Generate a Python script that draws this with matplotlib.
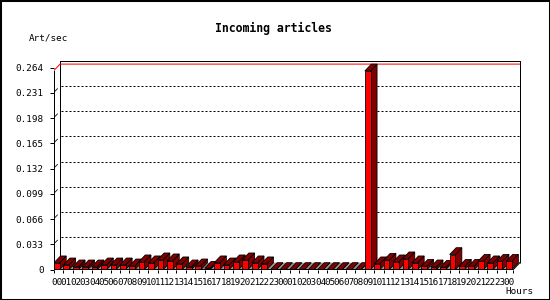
import matplotlib
matplotlib.use("Agg")
import matplotlib.pyplot as plt
from matplotlib.patches import Polygon, Rectangle

# ---------------- data ----------------
hours = ["00", "01", "02", "03", "04", "05", "06", "07", "08", "09", "10", "11",
         "12", "13", "14", "15", "16", "17", "18", "19", "20", "21", "22", "23",
         "00", "01", "02", "03", "04", "05", "06", "07", "08", "09", "10", "11",
         "12", "13", "14", "15", "16", "17", "18", "19", "20", "21", "22", "23",
         "00"]
day1 = [0.0088, 0.0061, 0.0035, 0.0035, 0.0035, 0.0061, 0.0061, 0.0061,
        0.0048, 0.0101, 0.0088, 0.0127, 0.0114, 0.0075, 0.0035, 0.0048,
        0.0017, 0.0088, 0.0061, 0.0101, 0.0127, 0.0088, 0.0075, 0.0]
day2 = [0.0, 0.0, 0.0, 0.0, 0.0, 0.0, 0.0, 0.0, 0.0, 0.2596,
        0.0075, 0.0122, 0.0101, 0.0140, 0.0088, 0.0043, 0.0035, 0.0030,
        0.0196, 0.0043, 0.0043, 0.0108, 0.0088, 0.0108, 0.0108]
values = day1 + day2
y_ticks = [0, 0.033, 0.066, 0.099, 0.132, 0.165, 0.198, 0.231, 0.264]
y_tick_labels = ["0", "0.033", "0.066", "0.099", "0.132", "0.165", "0.198", "0.231", "0.264"]
title = "Incoming articles"
y_label = "Art/sec"
x_label = "Hours"

# ---------------- layout ----------------
W, H = 550, 300
PX_X = 9.42      # pixels per category
PX_Y = 765.0     # pixels per unit value
X0, X1 = -0.05, 49.6
Y0, Y1 = 0.0, 0.28
base_px = 269.5
left_px = 54 + PX_X * X0

FONT = "DejaVu Sans Mono"
fs = 6.7
px = 0.72  # one pixel in points

fig = plt.figure(figsize=(W / 100, H / 100), dpi=100)
fig.patch.set_facecolor("white")
ax = fig.add_axes([left_px / W, (H - base_px) / H,
                   PX_X * (X1 - X0) / W, PX_Y * (Y1 - Y0) / H])
ax.set_xlim(X0, X1)
ax.set_ylim(Y0, Y1)
for s in ax.spines.values():
    s.set_visible(False)
ax.patch.set_visible(False)

n = len(values)
bw = 0.605
ddx = 6.5 / PX_X
ddy = 6.8 / PX_Y
xend = n - 0.24
ytop = y_ticks[-1]
maxv = max(values)

# floor
ax.add_patch(Polygon([(X0, 0), (xend, 0), (xend + ddx, ddy), (X0 + ddx, ddy)],
                     closed=True, fc="#999999", ec="none", zorder=1))
# back wall frame
ax.plot([X0 + ddx, X0 + ddx, xend + ddx, xend + ddx],
        [ddy, ytop + ddy, ytop + ddy, ddy], color="black", lw=px, zorder=2,
        solid_capstyle="butt")
# grid
for t in y_ticks[1:-1]:
    ax.plot([X0 + ddx + 0.15, xend + ddx], [t + ddy, t + ddy], color="black",
            lw=px, ls=(0, (2, 2)), zorder=2)
    ax.plot([X0 + 0.25 * ddx, X0 + 0.6 * ddx], [t + 0.25 * ddy, t + 0.6 * ddy],
            color="black", lw=px * 0.8, zorder=2)
# max line
ax.plot([X0, X0 + ddx, xend + ddx], [maxv, maxv + ddy, maxv + ddy],
        color="red", lw=px, zorder=2)
# front axis + floor edges
ax.plot([X0, X0], [0, maxv], color="black", lw=px, zorder=6)
ax.plot([X0, xend, xend + ddx], [0, 0, ddy], color="black", lw=px, zorder=6)
ax.plot([X0, X0 + ddx], [0, ddy], color="black", lw=px, zorder=2)

# bars: tops and sides
for i, v in enumerate(values):
    z = 3 + i * 0.001
    ax.add_patch(Polygon([(i + bw, 0), (i + bw + ddx, ddy), (i + bw + ddx, v + ddy), (i + bw, v)],
                         closed=True, fc="#800000", ec="black", lw=px * 0.8, zorder=z))
    ax.add_patch(Polygon([(i, v), (i + bw, v), (i + bw + ddx, v + ddy), (i + ddx, v + ddy)],
                         closed=True, fc="#800000", ec="black", lw=px * 0.8, zorder=z))
# bars: fronts
ax.bar(range(n), values, width=bw, align="edge", color="#ff0000",
       edgecolor="black", linewidth=px * 0.8, zorder=5)

# ticks
ax.set_xticks([i + bw / 2 for i in range(n)])
ax.set_xticklabels(hours, fontfamily=FONT, fontsize=fs)
ax.set_xticks(list(range(n)) + [xend], minor=True)
ax.tick_params(axis="x", which="major", length=0, pad=6)
ax.tick_params(axis="x", which="minor", length=3 * px, width=px, direction="out")
ax.set_yticks(y_ticks)
ax.set_yticklabels(y_tick_labels, fontfamily=FONT, fontsize=fs)
ax.tick_params(axis="y", length=4 * px, width=px, pad=4, direction="out")

fig.text(273 / W, 1 - 28 / H, title, ha="center", va="center",
         fontfamily=FONT, fontsize=8.3, fontweight="bold")
fig.text(29 / W, 1 - 38 / H, y_label, ha="left", va="center",
         fontfamily=FONT, fontsize=fs)
fig.text(505 / W, 1 - 292 / H, x_label, ha="left", va="center",
         fontfamily=FONT, fontsize=fs)

fig.add_artist(Rectangle((0, 0), 1, 1, transform=fig.transFigure, fill=False,
                         ec="black", lw=2.2))

fig.savefig("out.png", dpi=100, facecolor="white")
